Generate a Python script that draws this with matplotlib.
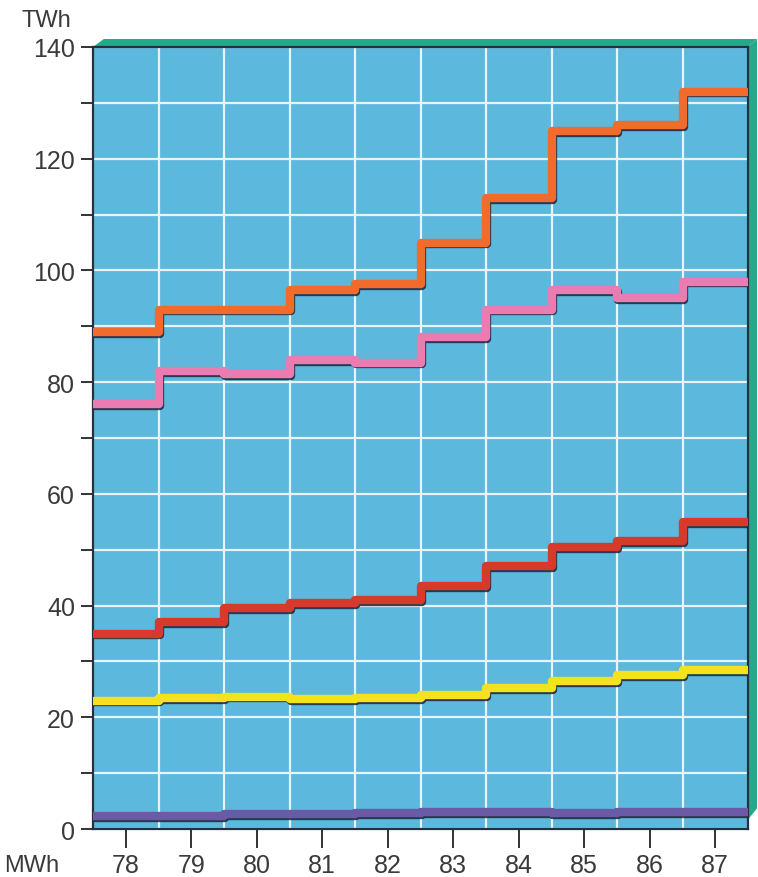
import numpy as np
from matplotlib import pyplot as plt
from matplotlib import patheffects as pe
from matplotlib.patches import Polygon

plt.rcParams['font.family'] = ['Liberation Sans', 'DejaVu Sans']

# years and energy values (TWh)
years = [78, 79, 80, 81, 82, 83, 84, 85, 86, 87]
orange = [89, 93, 93, 96.5, 97.5, 105, 113, 125, 126, 132]
pink = [76, 82, 81.5, 84, 83.5, 88, 93, 96.5, 95, 98]
red = [35, 37, 39.5, 40.5, 41, 43.5, 47, 50.5, 51.5, 55]
yellow = [23, 23.5, 23.7, 23.3, 23.5, 24, 25.2, 26.5, 27.5, 28.5]
purple = [2.3, 2.3, 2.7, 2.7, 2.8, 3.0, 3.0, 2.9, 3.0, 3.0]

series = [
    (purple, '#6b5aa6'),
    (yellow, '#f4e21f'),
    (red, '#d8392c'),
    (pink, '#ea7cb2'),
    (orange, '#f26a2c'),
]

bg = '#5cb8dc'
grid_col = '#e6f5fb'
green = '#26a98b'
txt = '#3a3a3a'

fig = plt.figure(figsize=(7.58, 8.78), dpi=100)
ax = fig.add_axes([93/758, 1 - 830/878, 655/758, 782/878])
ax.set_facecolor(bg)

edges = np.arange(years[0] - 0.5, years[-1] + 1.0, 1.0)
for vals, col in series:
    st = ax.stairs(vals, edges, baseline=None, color=col, linewidth=6.0,
                   joinstyle='round', capstyle='butt', zorder=3)
    st.set_path_effects([
        pe.SimpleLineShadow(offset=(1.0, -1.3), shadow_color='#1c2438', alpha=0.85),
        pe.Normal()])

ax.set_xlim(edges[0], edges[-1])
ax.set_ylim(0, 140)

ax.set_xticks(years)
ax.set_xticks(edges[1:-1], minor=True)
ax.set_yticks(np.arange(0, 141, 20))
ax.set_yticks(np.arange(10, 140, 20), minor=True)

ax.grid(True, which='minor', axis='x', color=grid_col, linewidth=1.6, zorder=1)
ax.grid(True, which='both', axis='y', color=grid_col, linewidth=1.6, zorder=1)
ax.set_axisbelow(True)

ax.tick_params(axis='x', which='major', direction='out', length=14, width=1.4,
               color='#333333', labelsize=18, labelcolor=txt, pad=3)
ax.tick_params(axis='x', which='minor', length=0)
ax.tick_params(axis='y', which='both', direction='out', length=9, width=1.4,
               color='#333333', labelsize=18, labelcolor=txt, pad=4)

for s in ax.spines.values():
    s.set_color('#263040')
    s.set_linewidth(1.6)

# 3D green border on top and right
dx = 9 / 655
dy = 8 / 782
top = Polygon([(0, 1), (1, 1), (1 + dx, 1 + dy), (dx * 1.2, 1 + dy)],
              closed=True, transform=ax.transAxes, clip_on=False,
              fc=green, ec='none', zorder=0)
right = Polygon([(1, 0.012), (1 + dx, 0.012 + dy * 1.4), (1 + dx, 1 + dy), (1, 1)],
                closed=True, transform=ax.transAxes, clip_on=False,
                fc=green, ec='none', zorder=0)
ax.add_patch(top)
ax.add_patch(right)

fig.text(22/758, 1 - 21/878, 'TWh', fontsize=17, color=txt, va='center', ha='left')
fig.text(4/758, 1 - 866/878, 'MWh', fontsize=17, color=txt, va='center', ha='left')

fig.savefig('out.png', dpi=100)
